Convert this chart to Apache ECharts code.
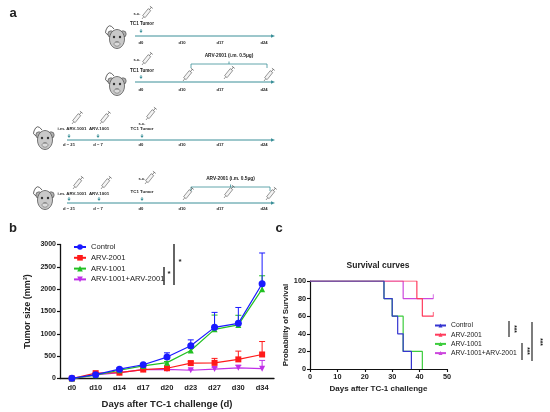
<!DOCTYPE html>
<html><head><meta charset="utf-8">
<script src="https://cdn.jsdelivr.net/npm/echarts@6/dist/echarts.min.js"></script>
<style>html,body{margin:0;padding:0;background:#fff}#c{width:550px;height:412px}</style>
</head><body><div id="c"></div>
<script>
// ---- Panel b data (tumor size, mm^3) ----
const days = ['d0','d10','d14','d17','d20','d23','d27','d30','d34'];
const seriesNames = ['Control','ARV-2001','ARV-1001','ARV-1001+ARV-2001'];
const controlMean = [5, 85, 208, 308, 480, 732, 1145, 1235, 2120];
const controlErr  = [10, 15, 27, 27, 95, 133, 335, 355, 690];
const arv2001Mean = [0, 120, 130, 200, 230, 345, 350, 428, 538];
const arv2001Err  = [10, 15, 12, 15, 20, 40, 100, 185, 290];
const arv1001Mean = [0, 75, 185, 282, 355, 628, 1100, 1200, 2000];
const arv1001Err  = [10, 10, 15, 20, 25, 50, 320, 215, 300];
const comboMean   = [-5, 82, 130, 200, 205, 185, 212, 240, 220];
const comboErr    = [10, 10, 12, 15, 20, 20, 40, 55, 185];

// ---- Panel c data (Kaplan-Meier survival, %) ----
const controlT = [0, 27, 30, 32, 34, 37];
const controlS = [100, 80, 60, 40, 20, 0];
const arv2001T = [0, 39, 41, 45];
const arv2001S = [100, 80, 60, 60];
const arv1001T = [0, 27, 30, 34, 41];
const arv1001S = [100, 80, 60, 20, 0];
const comboT   = [0, 34, 45];
const comboS   = [100, 80, 80];

// ---- Panel a schedule labels ----
const tumorDays = ['d0','d10','d17','d24'];
const primeDays = ['d − 21','d − 7'];

const colB = {c:'#1a1aff', r:'#ff1a1a', g:'#22c022', m:'#c030e8'};
const colC = {c:'#3535d0', r:'#ff3b5c', g:'#3ccc3c', m:'#cc48dd'};
const FONT = 'Liberation Sans, Arial, sans-serif';
const TEAL = '#3a8f98';

const chart = echarts.init(document.getElementById('c'));

function errRender(color){
  return function(params, api){
    const p0 = api.coord([api.value(0), api.value(1)]);
    const p1 = api.coord([api.value(0), api.value(2)]);
    return {type:'group', children:[
      {type:'line', shape:{x1:p0[0],y1:p0[1],x2:p1[0],y2:p1[1]}, style:{stroke:color,lineWidth:1}},
      {type:'line', shape:{x1:p1[0]-3,y1:p1[1],x2:p1[0]+3,y2:p1[1]}, style:{stroke:color,lineWidth:1}}
    ]};
  };
}
function errData(mean, err){ return mean.map((v,i)=>[i, v, v+err[i]]); }
function zipTS(t,s){ return t.map((x,i)=>[x, s[i]]); }

// ---------- schematic graphics ----------
const G = [];
function txt(x,y,t,size,opts){
  G.push({type:'text', z:10, style:Object.assign({x:x,y:y,text:t,fill:'#222',font:'bold '+size+'px '+FONT,align:'center',verticalAlign:'middle'}, opts||{})});
}
function rtxt(x,y,t,size){
  G.push({type:'text', z:10, x:x, y:y, rotation:-Math.PI/2, style:{x:0,y:0,text:t,fill:'#222',font:'bold '+size+'px '+FONT,align:'center',verticalAlign:'middle'}});
}
function line(x1,y1,x2,y2,color,w){
  G.push({type:'line', shape:{x1,y1,x2,y2}, style:{stroke:color,lineWidth:w}});
}
function timeline(x1,x2,y){
  line(x1,y,x2-3,y,TEAL,1);
  G.push({type:'polygon', shape:{points:[[x2,y],[x2-4,y-1.8],[x2-4,y+1.8]]}, style:{fill:TEAL}});
}
function marker(x,y){
  line(x,y-4,x,y-1,TEAL,0.8);
  G.push({type:'polygon', shape:{points:[[x,y],[x-1.6,y-2.2],[x+1.6,y-2.2]]}, style:{fill:TEAL}});
}
function syringe(x,y){
  const ux=0.62, uy=-0.78, px=0.78, py=0.62, w=1.6;
  const a=[x+ux*3,y+uy*3], b=[x+ux*12,y+uy*12];
  line(x,y,a[0],a[1],'#555',0.6);
  G.push({type:'polygon', shape:{points:[[a[0]+px*w,a[1]+py*w],[b[0]+px*w,b[1]+py*w],[b[0]-px*w,b[1]-py*w],[a[0]-px*w,a[1]-py*w]]}, style:{fill:'#f4f4f4',stroke:'#555',lineWidth:0.6}});
  line(b[0],b[1],x+ux*15,y+uy*15,'#555',0.7);
  line(x+ux*15+px*1.8,y+uy*15+py*1.8,x+ux*15-px*1.8,y+uy*15-py*1.8,'#555',0.7);
}
function mouse(cx,cy){
  G.push({type:'bezierCurve', shape:{x1:cx-3,y1:cy-9,cpx1:cx-8,cpy1:cy-16,x2:cx-11,y2:cy-8}, style:{stroke:'#555',lineWidth:0.9,fill:null}});
  G.push({type:'bezierCurve', shape:{x1:cx-11,y1:cy-8,cpx1:cx-13,cpy1:cy-5,x2:cx-9,y2:cy-3}, style:{stroke:'#555',lineWidth:0.9,fill:null}});
  G.push({type:'circle', shape:{cx:cx-6,cy:cy-4,r:3.2}, style:{fill:'#b0b0b0',stroke:'#444',lineWidth:0.6}});
  G.push({type:'circle', shape:{cx:cx+6,cy:cy-4,r:3.2}, style:{fill:'#b0b0b0',stroke:'#444',lineWidth:0.6}});
  G.push({type:'ellipse', shape:{cx:cx,cy:cy+1,rx:7.5,ry:9.5}, style:{fill:'#c9c9c9',stroke:'#444',lineWidth:0.7}});
  G.push({type:'circle', shape:{cx:cx-3,cy:cy-1,r:1.2}, style:{fill:'#333'}});
  G.push({type:'circle', shape:{cx:cx+3,cy:cy-1,r:1.2}, style:{fill:'#333'}});
  G.push({type:'ellipse', shape:{cx:cx,cy:cy+6,rx:3,ry:2.2}, style:{fill:'#dcdcdc',stroke:'#555',lineWidth:0.5}});
  G.push({type:'line', shape:{x1:cx-1.5,y1:cy+4,x2:cx+1.5,y2:cy+4}, style:{stroke:'#444',lineWidth:0.5}});
}
function bracket(x1,x2,y,label){
  line(x1,y,x2,y,TEAL,0.8);
  line(x1,y,x1,y+4,TEAL,0.8);
  line(x2,y,x2,y+4,TEAL,0.8);
  line((x1+x2)/2,y,(x1+x2)/2,y-2.5,TEAL,0.8);
  txt((x1+x2)/2,y-8,label,4.8);
}
const dayX = [141,182,220,264];
function dayLabels(y, xs, labels){ labels.forEach((l,i)=>txt(xs[i],y,l,4.2)); }

// Row 1
mouse(117,38); timeline(135,275,36); marker(141,33);
txt(137,14,'s.c.',4.2); syringe(142,19); txt(142,24,'TC1 Tumor',4.6);
dayLabels(43, dayX, tumorDays);
// Row 2
mouse(117,85); timeline(135,275,82); marker(141,79);
txt(137,60,'s.c.',4.2); syringe(142,65); txt(142,71,'TC1 Tumor',4.6);
bracket(191,267,64,'ARV-2001 (i.m. 0.5μg)');
syringe(183,81); syringe(224,79); syringe(264,81);
dayLabels(90, dayX, tumorDays);
// Row 3
mouse(45,139); timeline(67,275,140); marker(69,138); marker(98,138); marker(142,138);
syringe(72,124); syringe(100,124); syringe(146,120);
txt(72,129,'i.m. ARV-1001',4.4); txt(99,129,'ARV-1001',4.4);
txt(142,124,'s.c.',4.2); txt(142,129,'TC1 Tumor',4.4);
dayLabels(145, [69,98].concat(dayX), primeDays.concat(tumorDays));
// Row 4
mouse(45,199); timeline(67,275,203); marker(69,201); marker(99,201); marker(142,201);
syringe(73,189); syringe(101,189); syringe(145,184);
txt(72,194,'i.m. ARV-1001',4.4); txt(99,194,'ARV-1001',4.4);
txt(142,179,'s.c.',4.2); txt(142,192,'TC1 Tumor',4.4);
bracket(191,270,187,'ARV-2001 (i.m. 0.5μg)');
syringe(183,200); syringe(224,198); syringe(266,200);
dayLabels(209, [69,98].concat(dayX), primeDays.concat(tumorDays));

// Panel letters
txt(13,13,'a',13,{font:'bold 13px '+FONT});
txt(13,228,'b',13,{font:'bold 13px '+FONT});
txt(279,228,'c',13,{font:'bold 13px '+FONT});

// significance b
line(174,244,174,285,'#111',1.3); txt(180,262,'*',8);
line(164,267,164,285,'#111',1.3); txt(169,274,'*',8);
// significance c
line(509,321,509,337,'#111',1.1); rtxt(514,329,'***',6.5);
line(522,343,522,360,'#111',1.1); rtxt(527,351,'***',6.5);
line(532,322,532,361,'#111',1.1); rtxt(540,342,'***',6.5);

const bSym = ['circle','rect','triangle','triangle'];
const noComma = v => String(v);
const option = {
  animation:false,
  textStyle:{fontFamily:FONT},
  title:{text:'Survival curves', left:378, top:261, textAlign:'center', padding:0,
    textStyle:{fontSize:8.5,fontWeight:'bold',color:'#222',fontFamily:FONT}},
  legend:[
    {orient:'vertical', left:73, top:243, padding:0, itemWidth:12, itemHeight:7, itemGap:2.8, selectedMode:false,
     data:seriesNames, textStyle:{fontSize:7.6,color:'#222',fontFamily:FONT}},
    {orient:'vertical', left:434, top:322, padding:0, itemWidth:11, itemHeight:5, itemGap:2.2, selectedMode:false,
     data:seriesNames.map(n=>'s_'+n), formatter:n=>n.replace('s_',''),
     textStyle:{fontSize:6.8,color:'#222',fontFamily:FONT}}
  ],
  grid:[
    {left:60, top:244.5, width:214, height:134},
    {left:310, top:281, width:137, height:88}
  ],
  xAxis:[
    {gridIndex:0, type:'category', data:days,
     axisLine:{lineStyle:{color:'#111',width:1.3}}, axisTick:{alignWithLabel:true,length:3,lineStyle:{color:'#111',width:1.2}},
     axisLabel:{fontSize:7.5,fontWeight:'bold',color:'#222',margin:5},
     name:'Days after TC-1 challenge (d)', nameLocation:'middle', nameGap:21,
     nameTextStyle:{fontSize:9.5,fontWeight:'bold',color:'#222'}},
    {gridIndex:1, type:'value', min:0, max:50, interval:10,
     splitLine:{show:false}, axisLine:{lineStyle:{color:'#111',width:1.2}}, axisTick:{length:3,lineStyle:{color:'#111',width:1.1}},
     axisLabel:{fontSize:7.3,fontWeight:'bold',color:'#222',margin:4},
     name:'Days after TC-1 challenge', nameLocation:'middle', nameGap:16,
     nameTextStyle:{fontSize:8,fontWeight:'bold',color:'#222'}}
  ],
  yAxis:[
    {gridIndex:0, type:'value', min:0, max:3000, interval:500,
     splitLine:{show:false}, axisLine:{show:true,lineStyle:{color:'#111',width:1.3}}, axisTick:{show:true,length:3,lineStyle:{color:'#111',width:1.2}},
     axisLabel:{fontSize:7,fontWeight:'bold',color:'#222',margin:4,formatter:noComma},
     name:'Tumor size (mm³)', nameLocation:'middle', nameGap:28,
     nameTextStyle:{fontSize:9,fontWeight:'bold',color:'#222'}},
    {gridIndex:1, type:'value', min:0, max:100, interval:20,
     splitLine:{show:false}, axisLine:{show:true,lineStyle:{color:'#111',width:1.2}}, axisTick:{show:true,length:3,lineStyle:{color:'#111',width:1.1}},
     axisLabel:{fontSize:7.3,fontWeight:'bold',color:'#222',margin:4},
     name:'Probability of Survival', nameLocation:'middle', nameGap:20,
     nameTextStyle:{fontSize:7.8,fontWeight:'bold',color:'#222'}}
  ],
  graphic:G,
  series:[]
};

const bMeans=[controlMean,arv2001Mean,arv1001Mean,comboMean];
const bErrs=[controlErr,arv2001Err,arv1001Err,comboErr];
const bCols=[colB.c,colB.r,colB.g,colB.m];
const bOrder=[3,1,2,0];
bOrder.forEach(function(i){
  option.series.push({type:'custom', xAxisIndex:0, yAxisIndex:0, renderItem:errRender(bCols[i]), data:errData(bMeans[i],bErrs[i]), z:2});
});
bOrder.forEach(function(i){
  option.series.push({type:'line', name:seriesNames[i], xAxisIndex:0, yAxisIndex:0, data:bMeans[i],
    symbol:bSym[i], symbolRotate: i===3?180:0, symbolSize: i===0?7:6,
    lineStyle:{color:bCols[i],width:1.2}, itemStyle:{color:bCols[i]}, z:3});
});
// survival
const cData=[zipTS(controlT,controlS),zipTS(arv2001T,arv2001S),zipTS(arv1001T,arv1001S),zipTS(comboT,comboS)];
const cCols=[colC.c,colC.r,colC.g,colC.m];
[3,2,1,0].forEach(function(i){
  option.series.push({type:'line', name:'s_'+seriesNames[i], xAxisIndex:1, yAxisIndex:1, data:cData[i], step:'end',
    symbol:'triangle', symbolSize:4, showSymbol:false,
    lineStyle:{color:cCols[i],width:1.2}, itemStyle:{color:cCols[i]}});
});
// censor ticks at last point for surviving groups
[1,3].forEach(function(i){
  const d=cData[i]; const last=d[d.length-1];
  option.series.push({type:'scatter', xAxisIndex:1, yAxisIndex:1, data:[last], symbol:'rect', symbolSize:[1,4.5],
    symbolOffset:[0,-2], itemStyle:{color:cCols[i]}});
});
chart.setOption(option);
</script></body></html>
